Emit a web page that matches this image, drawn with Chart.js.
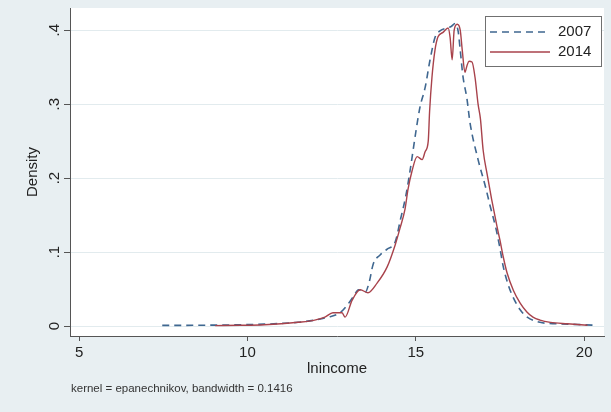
<!DOCTYPE html>
<html><head><meta charset="utf-8">
<script src="https://cdn.jsdelivr.net/npm/chart.js@4.4.0/dist/chart.umd.min.js"></script>
<style>html,body{margin:0;padding:0;background:#e8eff2;overflow:hidden}canvas{display:block}</style>
</head><body>
<canvas id="c" width="611" height="412"></canvas>
<script>
// ---- data ----
const seriesLabels = ['2007', '2014'];
const x2007 = [7.47, 8.5, 9.5, 10.5, 11.0, 11.5, 12.0, 12.4, 12.75, 12.96, 13.15, 13.30, 13.50, 13.62, 13.73, 13.94, 14.15, 14.39, 14.55, 14.70, 14.83, 15.00, 15.12, 15.28, 15.42, 15.57, 15.72, 15.93, 16.05, 16.17, 16.26, 16.32, 16.40, 16.52, 16.61, 16.85, 17.06, 17.21, 17.38, 17.50, 17.59, 17.75, 17.89, 18.10, 18.31, 18.69, 19.2, 19.8, 20.39];
const d2007 = [0.0008, 0.0010, 0.0015, 0.0025, 0.0035, 0.005, 0.008, 0.012, 0.018, 0.028, 0.040, 0.049, 0.046, 0.060, 0.083, 0.096, 0.104, 0.114, 0.145, 0.175, 0.210, 0.262, 0.295, 0.323, 0.359, 0.390, 0.399, 0.403, 0.405, 0.409, 0.398, 0.373, 0.338, 0.307, 0.275, 0.225, 0.190, 0.162, 0.132, 0.105, 0.082, 0.055, 0.039, 0.022, 0.012, 0.005, 0.003, 0.002, 0.001];
const x2014 = [9.04, 9.8, 10.5, 11.0, 11.5, 12.0, 12.3, 12.54, 12.81, 12.90, 13.11, 13.35, 13.58, 13.85, 14.15, 14.39, 14.53, 14.68, 14.77, 14.89, 15.04, 15.19, 15.28, 15.37, 15.41, 15.48, 15.57, 15.66, 15.81, 15.96, 16.02, 16.08, 16.14, 16.23, 16.32, 16.38, 16.46, 16.52, 16.58, 16.67, 16.76, 16.85, 16.92, 17.00, 17.12, 17.25, 17.41, 17.50, 17.60, 17.71, 17.90, 18.10, 18.30, 18.48, 18.69, 19.0, 19.5, 20.1];
const d2014 = [0.0005, 0.001, 0.0018, 0.003, 0.005, 0.008, 0.012, 0.018, 0.018, 0.012, 0.035, 0.049, 0.045, 0.058, 0.080, 0.110, 0.132, 0.158, 0.185, 0.210, 0.229, 0.225, 0.236, 0.250, 0.290, 0.336, 0.373, 0.391, 0.397, 0.403, 0.390, 0.360, 0.400, 0.408, 0.400, 0.373, 0.343, 0.352, 0.358, 0.357, 0.336, 0.300, 0.280, 0.238, 0.205, 0.172, 0.135, 0.116, 0.093, 0.072, 0.048, 0.031, 0.019, 0.012, 0.008, 0.005, 0.003, 0.001];
const xTicks = [5, 10, 15, 20];
const yTicks = [0, 0.1, 0.2, 0.3, 0.4];
const yTickLabels = ['0', '.1', '.2', '.3', '.4'];
const xTitle = 'lnincome';
const yTitle = 'Density';
const noteText = 'kernel = epanechnikov, bandwidth = 0.1416';

const FONT = '"Liberation Sans", Arial, sans-serif';
const colors = ['#3f6790', '#a8424b'];

const stataPlugin = {
  id: 'stata',
  beforeDraw(chart) {
    const {ctx, chartArea: a} = chart;
    ctx.save();
    ctx.fillStyle = '#ffffff';
    ctx.fillRect(a.left, a.top, a.right - a.left, a.bottom - a.top);
    ctx.restore();
  },
  afterDraw(chart) {
    const {ctx, chartArea: a} = chart;
    const ys = chart.scales.y;
    ctx.save();
    ctx.fillStyle = '#222';
    // y tick labels (rotated, Stata style)
    ctx.font = '15px ' + FONT;
    ctx.textAlign = 'center';
    ctx.textBaseline = 'middle';
    yTicks.forEach((v, i) => {
      const py = ys.getPixelForValue(v);
      ctx.save();
      ctx.translate(55, py);
      ctx.rotate(-Math.PI / 2);
      ctx.fillText(yTickLabels[i], 0, 0);
      ctx.restore();
    });
    // y title
    ctx.save();
    ctx.translate(33, (a.top + a.bottom) / 2);
    ctx.rotate(-Math.PI / 2);
    ctx.fillText(yTitle, 0, 0);
    ctx.restore();
    // x title
    ctx.fillText(xTitle, (a.left + a.right) / 2, 369);
    // note
    ctx.font = '11.5px ' + FONT;
    ctx.textAlign = 'left';
    ctx.fillStyle = '#333';
    ctx.fillText(noteText, 71, 389);
    // legend
    const lx = 485.5, ly = 16.5, lw = 116, lh = 50;
    ctx.fillStyle = '#fff';
    ctx.fillRect(lx, ly, lw, lh);
    ctx.strokeStyle = '#707070';
    ctx.lineWidth = 1;
    ctx.strokeRect(lx, ly, lw, lh);
    ctx.font = '15px ' + FONT;
    chart.data.datasets.forEach((ds, i) => {
      const yy = 32 + i * 20;
      ctx.save();
      ctx.strokeStyle = ds.borderColor;
      ctx.lineWidth = ds.borderWidth;
      ctx.setLineDash(ds.borderDash || []);
      ctx.beginPath();
      ctx.moveTo(490, yy);
      ctx.lineTo(550, yy);
      ctx.stroke();
      ctx.restore();
      ctx.fillStyle = '#222';
      ctx.textAlign = 'left';
      ctx.fillText(ds.label, 558, yy);
    });
    ctx.restore();
  }
};

new Chart(document.getElementById('c'), {
  type: 'line',
  data: {
    datasets: [
      {label: seriesLabels[0], data: x2007.map((x, i) => ({x, y: d2007[i]})), borderColor: colors[0], borderWidth: 1.6, borderDash: [7, 5], pointRadius: 0, fill: false, cubicInterpolationMode: 'monotone', order: 1},
      {label: seriesLabels[1], data: x2014.map((x, i) => ({x, y: d2014[i]})), borderColor: colors[1], borderWidth: 1.4, pointRadius: 0, fill: false, cubicInterpolationMode: 'monotone', order: 0}
    ]
  },
  options: {
    responsive: false,
    animation: false,
    devicePixelRatio: 1,
    layout: {padding: {left: 0, top: 8, right: 7, bottom: 0}},
    plugins: {legend: {display: false}, tooltip: {enabled: false}},
    scales: {
      x: {
        type: 'linear', min: 4.73, max: 20.59,
        afterBuildTicks: s => { s.ticks = xTicks.map(v => ({value: v})); },
        afterFit: s => { s.height = 76; },
        ticks: {font: {family: FONT, size: 15}, color: '#222', padding: 3, maxRotation: 0, autoSkip: false},
        grid: {drawOnChartArea: false, drawTicks: true, tickLength: 5, tickColor: '#555'},
        border: {display: true, color: '#555', width: 1}
      },
      y: {
        type: 'linear', min: -0.0135, max: 0.43,
        afterBuildTicks: s => { s.ticks = yTicks.map(v => ({value: v})); },
        afterFit: s => { s.width = 70; },
        ticks: {display: false},
        grid: {color: '#e2ebee', lineWidth: 1, drawTicks: true, tickLength: 6, tickColor: '#555'},
        border: {display: true, color: '#555', width: 1}
      }
    }
  },
  plugins: [stataPlugin]
});
</script>
</body></html>
